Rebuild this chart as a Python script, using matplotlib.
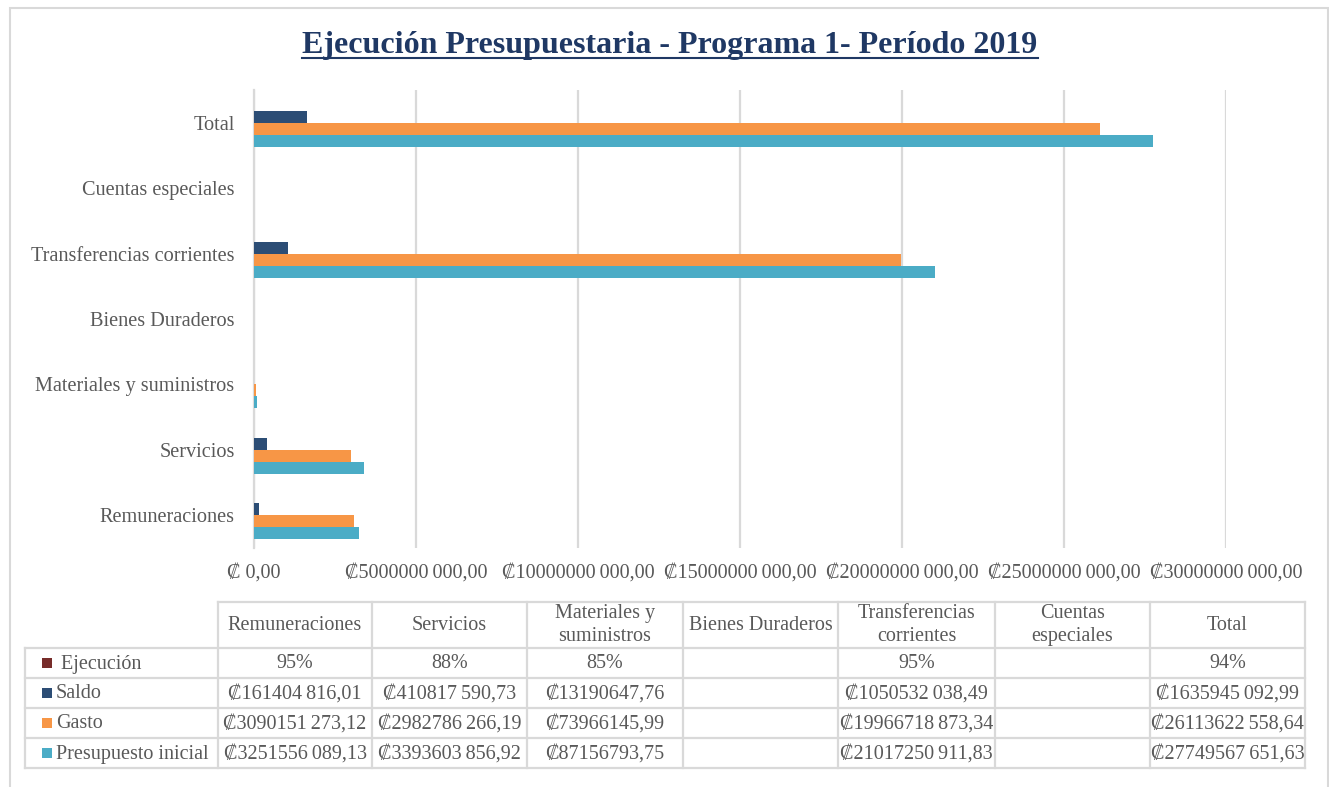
import numpy as np
import matplotlib
matplotlib.use("Agg")
import matplotlib.pyplot as plt
from matplotlib.lines import Line2D
from matplotlib.patches import Rectangle
from matplotlib.ticker import FuncFormatter, MultipleLocator

plt.rcParams['font.family'] = ['Liberation Serif', 'DejaVu Serif']

# ---------------- data ----------------
categories = ["Remuneraciones", "Servicios", "Materiales y suministros",
              "Bienes Duraderos", "Transferencias corrientes",
              "Cuentas especiales", "Total"]
table_headers = ["Remuneraciones", "Servicios", "Materiales y\nsuministros",
                 "Bienes Duraderos", "Transferencias\ncorrientes",
                 "Cuentas\nespeciales", "Total"]
series_names = ["Ejecución", "Saldo", "Gasto", "Presupuesto inicial"]
nan = np.nan
ejecucion = [0.95, 0.88, 0.85, nan, 0.95, nan, 0.94]
saldo = [161404816.01, 410817590.73, 13190647.76, nan, 1050532038.49, nan, 1635945092.99]
gasto = [3090151273.12, 2982786266.19, 73966145.99, nan, 19966718873.34, nan, 26113622558.64]
presupuesto = [3251556089.13, 3393603856.92, 87156793.75, nan, 21017250911.83, nan, 27749567651.63]
x_max = 30000000000
x_step = 5000000000

colors = {"Ejecución": "#772C2A", "Saldo": "#2C4D75",
          "Gasto": "#F79646", "Presupuesto inicial": "#4BACC6"}
series_vals = {"Ejecución": ejecucion, "Saldo": saldo,
               "Gasto": gasto, "Presupuesto inicial": presupuesto}

TXT = "#595959"
GRID = "#D9D9D9"
W, H = 1329, 787
THIN = "\u2009"


def money(v):
    s = f"{v:.2f}"
    ip, dp = s.split(".")
    if len(ip) > 8:
        ip = ip[:-3] + THIN + ip[-3:]
    return "\u20a1" + ip + "," + dp


def tick_fmt(v, pos):
    if v == 0:
        return "\u20a1 0,00"
    return money(v)


def fx(px):
    return px / W


def fy(py):
    return 1 - py / H


fig = plt.figure(figsize=(W / 100, H / 100), dpi=100)

# outer border
fig.add_artist(Rectangle((fx(10), fy(800)), fx(1328) - fx(10), fy(8) - fy(800),
                         transform=fig.transFigure, fill=False,
                         edgecolor=GRID, lw=1.5))

ax = fig.add_axes([fx(254), fy(548), fx(1226) - fx(254), fy(90) - fy(548)])

y = np.arange(len(categories))
h = 0.183
offsets = [1.5 * h, 0.5 * h, -0.5 * h, -1.5 * h]
for name, off in zip(series_names, offsets):
    vals = np.array(series_vals[name], dtype=float)
    ax.barh(y + off, np.nan_to_num(vals), height=h, color=colors[name], zorder=3)

ax.set_xlim(0, x_max)
ax.set_ylim(-0.5, len(categories) - 0.5)
ax.xaxis.set_major_locator(MultipleLocator(x_step))
ax.xaxis.set_major_formatter(FuncFormatter(tick_fmt))
ax.set_yticks(y)
ax.set_yticklabels(categories)
ax.grid(axis="x", color=GRID, lw=1.6, zorder=0)
for s in ["top", "right", "bottom"]:
    ax.spines[s].set_visible(False)
ax.spines["left"].set_color(GRID)
ax.spines["left"].set_linewidth(1.6)
ax.tick_params(axis="x", length=0, pad=11, labelsize=14.5, labelcolor=TXT)
ax.tick_params(axis="y", length=0, pad=14, labelsize=14.6, labelcolor=TXT)

# title
title = fig.text(fx(670), fy(53), "Ejecución Presupuestaria - Programa 1- Período 2019",
                 ha="center", va="baseline", fontsize=23, fontweight="bold",
                 color="#1F3864")
fig.canvas.draw()
bb = title.get_window_extent().transformed(fig.transFigure.inverted())
fig.add_artist(Line2D([bb.x0, bb.x1], [fy(58), fy(58)], transform=fig.transFigure,
                      color="#1F3864", lw=1.5))

# ---------------- data table ----------------
col_edges = [218, 372, 527, 683, 838, 995, 1150, 1305]
row_left = 25
row_edges = [602, 648, 678, 708, 738, 768]

lkw = dict(transform=fig.transFigure, color=GRID, lw=1.6)
fig.add_artist(Line2D([fx(col_edges[0]), fx(col_edges[-1])], [fy(row_edges[0])] * 2, **lkw))
for r in row_edges[1:]:
    fig.add_artist(Line2D([fx(row_left), fx(col_edges[-1])], [fy(r)] * 2, **lkw))
fig.add_artist(Line2D([fx(row_left)] * 2, [fy(row_edges[1]), fy(row_edges[-1])], **lkw))
for c in col_edges:
    fig.add_artist(Line2D([fx(c)] * 2, [fy(row_edges[0]), fy(row_edges[-1])], **lkw))

# header row
for i, lab in enumerate(table_headers):
    cx = (col_edges[i] + col_edges[i + 1]) / 2
    cy = (row_edges[0] + row_edges[1]) / 2
    fig.text(fx(cx), fy(cy), lab, ha="center", va="center", fontsize=14.5,
             color=TXT, linespacing=1.25)

# body rows
row_series = ["Ejecución", "Saldo", "Gasto", "Presupuesto inicial"]
for r, name in enumerate(row_series):
    cy = (row_edges[r + 1] + row_edges[r + 2]) / 2
    fig.add_artist(Rectangle((fx(42), fy(cy + 5)), fx(10), fy(0) - fy(10),
                             transform=fig.transFigure, color=colors[name], lw=0))
    label = (" " + name) if name == "Ejecución" else name
    fig.text(fx(56), fy(cy + 1), label, ha="left", va="center", fontsize=14.5, color=TXT)
    vals = series_vals[name]
    for i, v in enumerate(vals):
        if np.isnan(v):
            continue
        cx = (col_edges[i] + col_edges[i + 1]) / 2
        s = f"{round(v * 100)}%" if name == "Ejecución" else money(v)
        fig.text(fx(cx), fy(cy + 1), s, ha="center", va="center", fontsize=14.5, color=TXT)

fig.savefig("out.png", dpi=100)
